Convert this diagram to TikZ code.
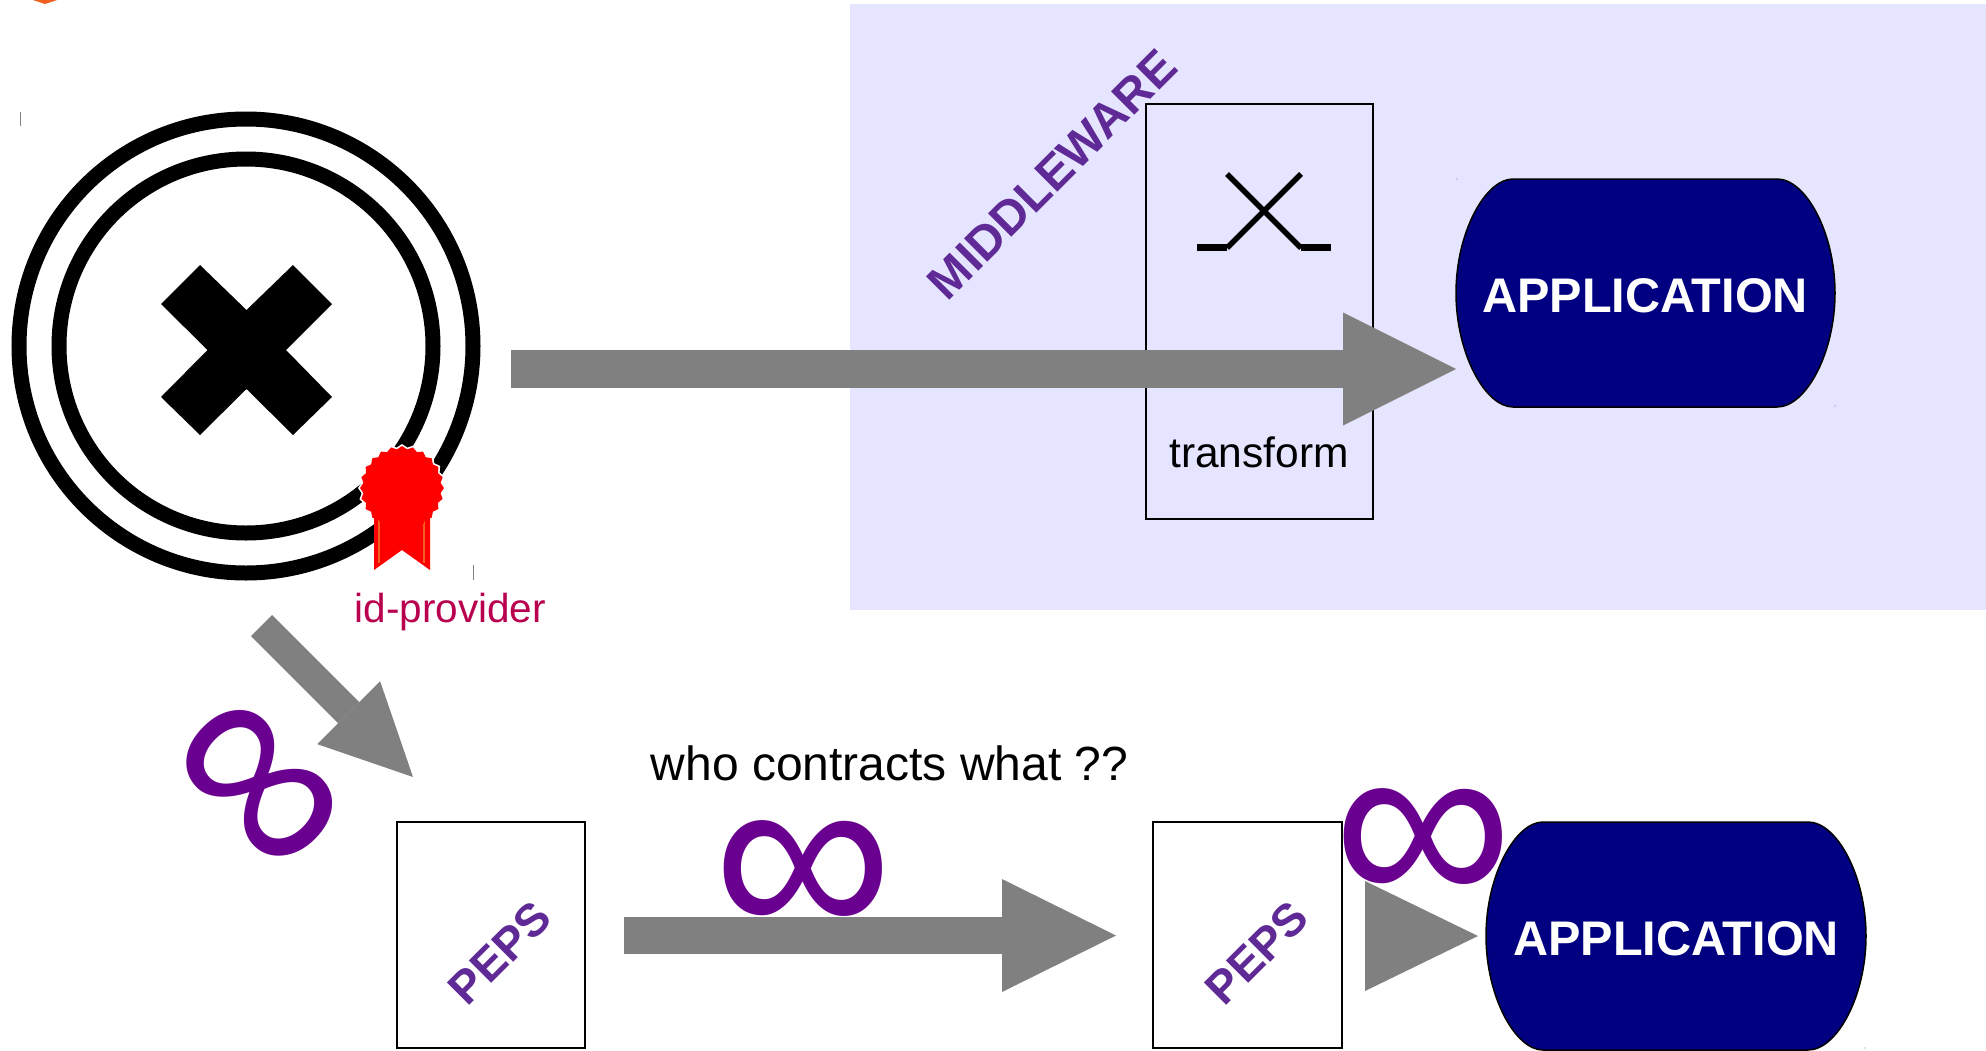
\documentclass[tikz,border=0pt]{standalone}
\usepackage{fontspec}
\setmainfont{Liberation Sans}
\usetikzlibrary{arrows.meta,shapes.geometric,calc}
\definecolor{panelblue}{HTML}{E5E5FF}
\definecolor{arrowgray}{HTML}{808080}
\definecolor{appnavy}{HTML}{000080}
\definecolor{loopviolet}{HTML}{6A008F}
\definecolor{labelviolet}{HTML}{5F2A96}
\definecolor{idcrimson}{HTML}{B8004F}
\definecolor{ribbonorange}{HTML}{F06020}
\tikzset{
  x=1pt,y=-1pt,
  ringline/.style={draw=black,line width=15pt},
  boxnode/.style={draw=black,line width=2pt,inner sep=0pt,anchor=north west},
  apptext/.style={text=white,font=\fontsize{48.6}{48.6}\selectfont\bfseries,inner sep=0pt,anchor=base},
  appshape/.style={fill=appnavy,draw=black,line width=1.5pt},
  slanted/.style={text=labelviolet,font=\bfseries,inner sep=0pt,rotate=45},
  loopsign/.style={text=loopviolet,inner sep=0pt,font=\fontsize{252}{252}\selectfont},
  plainlabel/.style={inner sep=0pt,anchor=base west},
  tick/.style={draw=gray,line width=1pt},
}
\begin{document}
\begin{tikzpicture}
\useasboundingbox (0,0) rectangle (1986,1050);
% panel
\fill[panelblue] (850,4) rectangle (1986,610);
% corner fragment
\fill[ribbonorange] (33,0) -- (45,4) -- (57,0) -- cycle;
% rings
\draw[ringline] (246,346) circle[radius=227];
\draw[ringline] (246,346) circle[radius=187];
% cross
\fill[black] (200,265) -- (246.5,310) -- (293,265) -- (332,304) -- (286,350) -- (332,397) -- (293,435) -- (246.5,389) -- (200,435) -- (161,397) -- (207.5,350) -- (161,304) -- cycle;
% seal
\node[star,star points=24,star point ratio=1.08,minimum size=88pt,fill=white,inner sep=0pt] (sealhalo) at (402,488) {};
\fill[red] (374,505) -- (374,570) -- (402,550) -- (430,570) -- (430,505) -- cycle;
\draw[ribbonorange,line width=1.6pt] (379,520) -- (379,563);
\draw[ribbonorange,line width=1.6pt] (424,520) -- (424,563);
\node[star,star points=24,star point ratio=1.08,minimum size=84pt,fill=red,inner sep=0pt] (seal) at (402,488) {};
% ticks
\draw[tick] (20,112) -- (20,126);
\draw[tick] (473.5,565) -- (473.5,580);
\fill[gray] (1457,179) circle[radius=.7];
\fill[gray] (1835,406) circle[radius=.7];
\fill[gray] (1865,1048) circle[radius=.7];
% id label
\node[plainlabel,text=idcrimson,font=\fontsize{40.5}{40.5}\selectfont] (idlabel) at (354.5,622) {id-provider};
% transform box
\node[boxnode,minimum width=227pt,minimum height=415pt] (transformbox) at (1145,103) {};
\draw[black,line width=5.5pt] (1227,174) -- (1301,248);
\draw[black,line width=5.5pt] (1301,174) -- (1227,248);
\draw[black,line width=7pt] (1197,247) -- (1227,247);
\draw[black,line width=7pt] (1301,247) -- (1331,247);
\node[plainlabel,font=\fontsize{42.5}{42.5}\selectfont] (transformlabel) at (1169,467) {transform};
% middleware
\node[slanted,font=\fontsize{48}{48}\selectfont\bfseries] (middleware) at (1052,174.5) {MIDDLEWARE};
% app 1
\path[appshape] (1513,179) -- (1777,179) .. controls (1806,179) and (1835,233) .. (1835,293) .. controls (1835,353) and (1806,407) .. (1777,407) -- (1513,407) .. controls (1485,407) and (1456,353) .. (1456,293) .. controls (1456,233) and (1485,179) .. (1513,179) -- cycle;
\node[apptext] (appone) at (1645,312) {APPLICATION};
% app 2
\path[appshape] (1543,822) -- (1808,822) .. controls (1837,822) and (1866,876) .. (1866,936) .. controls (1866,996) and (1837,1050) .. (1808,1050) -- (1543,1050) .. controls (1515,1050) and (1486,996) .. (1486,936) .. controls (1486,876) and (1515,822) .. (1543,822) -- cycle;
\node[apptext] (apptwo) at (1676,955) {APPLICATION};
% peps
\node[boxnode,minimum width=188pt,minimum height=226pt] (pepsone) at (396,821) {};
\node[boxnode,minimum width=189pt,minimum height=226pt] (pepstwo) at (1152,821) {};
\node[slanted,font=\fontsize{46}{46}\selectfont\bfseries] (pepsonelabel) at (500,953) {PEPS};
\node[slanted,font=\fontsize{46}{46}\selectfont\bfseries] (pepstwolabel) at (1257,953) {PEPS};
% arrows
\coordinate (bigtail) at (511,369);
\coordinate (bigtip) at (1456,369);
\coordinate (diagtail) at (261.5,625.5);
\coordinate (diagtip) at (413,777);
\coordinate (midtail) at (624,935.5);
\coordinate (midtip) at (1116,935.5);
\coordinate (shorttail) at (1365,936);
\coordinate (shorttip) at (1478,936);
\draw[arrowgray,line width=38pt,-{Triangle[length=113pt,width=113pt,line width=0pt]}] (bigtail) -- (bigtip);
\draw[arrowgray,line width=30pt,-{Triangle[length=91pt,width=89pt,line width=0pt]}] (diagtail) -- (diagtip);
\draw[arrowgray,line width=37pt,-{Triangle[length=114pt,width=113pt,line width=0pt]}] (midtail) -- (midtip);
\fill[arrowgray] ($(shorttail)+(0,-55)$) -- (shorttip) -- ($(shorttail)+(0,55)$) -- cycle;
% infinities
\node[loopsign] (loopmid) at (803,881) {∞};
\node[loopsign] (loopright) at (1423,849) {∞};
\node[loopsign,rotate=-45] (loopdiag) at (250.5,792) {∞};
% caption
\node[plainlabel,font=\fontsize{48}{48}\selectfont] (caption) at (650.5,780) {who contracts what ??};
\end{tikzpicture}
\end{document}
